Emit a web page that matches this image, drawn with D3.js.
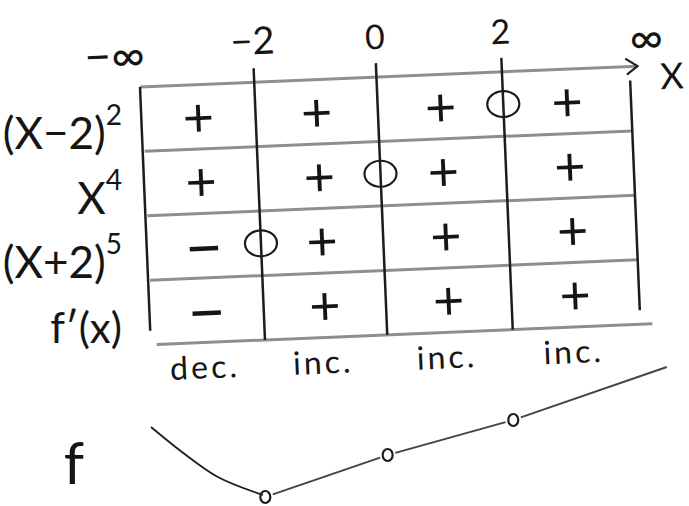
<!DOCTYPE html>
<html>
<head>
<meta charset="utf-8">
<script src="https://cdn.jsdelivr.net/npm/d3@7"></script>
<style>
  body { margin: 0; background: #fff; }
  svg { display: block; background: #fff; }
  text { font-family: Lato, 'DejaVu Sans', sans-serif; fill: #151515; }
</style>
</head>
<body>
<div id="chart"></div>
<script>
/* global d3 */

// ----------------------------------------
// Sign chart data
// ----------------------------------------
const boundaryLabels = ['−∞', '−2', '0', '2', '∞']
const factorNames = ['(X−2)', 'X', '(X+2)', 'f′(x)']
const factorPowers = ['2', '4', '5', '']
const rowSigns = [
  ['+', '+', '+', '+'],
  ['+', '+', '+', '+'],
  ['−', '+', '+', '+'],
  ['−', '+', '+', '+']
]
const zeroAt = [3, 2, 1, null] // boundary where the factor is 0
const behaviour = ['dec.', 'inc.', 'inc.', 'inc.']

// sketch of f (position in boundary units, rough height)
const fCurvePos = [0, 0.3, 0.6, 0.98]
const fCurveVal = [3.5, 2.2, 1.0, 0.1]
const fPointPos = [1, 2, 3]
const fPointVal = [0, 2.1, 3.85]
const fEndPos = 4.2
const fEndVal = 6.5

let gridC = '#8e8e8e'
let inkC = '#1c1c1c'

var width = 689
var height = 506
var gridW = 490
var gridH = 258

var svg = d3.select('#chart').append('svg')
  .attr('width', width)
  .attr('height', height)

var x = d3.scalePow().exponent(1.05).domain([0, 4]).range([0, gridW])
var row = d3.scaleBand().domain(d3.range(4)).range([0, gridH])
var colMid = i => (x(i) + x(i + 1)) / 2
var rowMid = r => row(r) + row.bandwidth() / 2

// the table is drawn slightly tilted, like on paper
var grid = svg.append('g')
  .attr('transform', 'translate(140,87) rotate(-2.4)')

// ----------------------------------------
// Horizontal lines
// ----------------------------------------
grid.append('line')
  .attr('x1', 0).attr('y1', 0)
  .attr('x2', gridW + 8).attr('y2', 0)
  .attr('stroke', gridC).attr('stroke-width', 3)

grid.append('path')
  .attr('d', d3.line()([[gridW - 4, -8], [gridW + 8, 0], [gridW - 3, 8]]))
  .attr('fill', 'none')
  .attr('stroke', inkC).attr('stroke-width', 2)

grid.selectAll('line.hrow')
  .data(d3.range(1, 4))
  .enter().append('line')
    .attr('class', 'hrow')
    .attr('x1', 2).attr('y1', d => row(d))
    .attr('x2', gridW).attr('y2', d => row(d))
    .attr('stroke', gridC).attr('stroke-width', 3)

grid.append('line')
  .attr('x1', 6).attr('y1', gridH)
  .attr('x2', gridW + 12).attr('y2', gridH)
  .attr('stroke', gridC).attr('stroke-width', 3)

// ----------------------------------------
// Vertical lines
// ----------------------------------------
grid.selectAll('line.vcol')
  .data(d3.range(5))
  .enter().append('line')
    .attr('class', 'vcol')
    .attr('x1', d => x(d))
    .attr('y1', d => d === 0 ? 0 : (d === 4 ? 14 : -14))
    .attr('x2', d => x(d))
    .attr('y2', d => (d === 0 || d === 4) ? gridH - 14 : gridH)
    .attr('stroke', inkC).attr('stroke-width', 2.5)

// boundary labels
grid.selectAll('text.bound')
  .data(boundaryLabels)
  .enter().append('text')
    .attr('class', 'bound')
    .attr('x', (d, i) => x(i) + (i === 0 ? -24 : (i === 4 ? 18 : 0)))
    .attr('y', (d, i) => i === 0 ? -16 : (i === 4 ? -12 : -28))
    .style('text-anchor', 'middle')
    .style('font-size', (d, i) => (i === 0 || i === 4) ? '46px' : (i === 1 ? '38px' : '34px'))
    .text(d => d)

grid.append('text')
  .attr('x', gridW + 42).attr('y', 24)
  .style('text-anchor', 'middle')
  .style('font-size', '36px')
  .text('X')

// ----------------------------------------
// Signs and zeros
// ----------------------------------------
rowSigns.forEach((signs, r) => {
  grid.selectAll('text.sign-' + r)
    .data(signs)
    .enter().append('text')
      .attr('class', 'sign-' + r)
      .attr('x', (d, i) => colMid(i))
      .attr('y', rowMid(r))
      .attr('dy', d => d === '+' ? '.36em' : '.38em')
      .style('text-anchor', 'middle')
      .style('font-size', d => d === '+' ? '54px' : '66px')
      .text(d => d)
})

grid.selectAll('ellipse.zero')
  .data(zeroAt.map((b, r) => ({ b: b, r: r })).filter(d => d.b !== null))
  .enter().append('ellipse')
    .attr('class', 'zero')
    .attr('cx', d => x(d.b))
    .attr('cy', d => rowMid(d.r))
    .attr('rx', 16).attr('ry', 13)
    .attr('fill', 'none')
    .attr('stroke', inkC).attr('stroke-width', 2.2)

// increasing / decreasing under each column
grid.selectAll('text.behave')
  .data(behaviour)
  .enter().append('text')
    .attr('class', 'behave')
    .attr('x', (d, i) => colMid(i) - 4)
    .attr('y', gridH + 36)
    .style('text-anchor', 'middle')
    .style('font-size', '32px')
    .style('letter-spacing', '3px')
    .text(d => d)

// ----------------------------------------
// Row labels
// ----------------------------------------
var labels = svg.selectAll('text.factor')
  .data(factorNames)
  .enter().append('text')
    .attr('class', 'factor')
    .attr('x', 122)
    .attr('y', (d, i) => 87 + rowMid(i) + 30)
    .style('text-anchor', 'end')

labels.append('tspan')
  .style('font-size', (d, i) => i === 3 ? '42px' : '44px')
  .text(d => d)

labels.append('tspan')
  .attr('dy', -24)
  .style('font-size', '28px')
  .text((d, i) => factorPowers[i])

// ----------------------------------------
// Sketch of f
// ----------------------------------------
var sx = d => 151 + x(d)
var sy = d3.scaleLinear().domain([0, fEndVal]).range([497, 367])

svg.append('text')
  .attr('x', 74).attr('y', 484)
  .style('text-anchor', 'middle')
  .style('font-size', '58px')
  .text('f')

svg.append('path')
  .datum(fCurvePos.map((p, i) => [sx(p), sy(fCurveVal[i])]))
  .attr('d', d3.line().curve(d3.curveCatmullRom))
  .attr('fill', 'none')
  .attr('stroke', inkC).attr('stroke-width', 1.8)

var knots = fPointPos.map((p, i) => [sx(p), sy(fPointVal[i])])
var ends = knots.concat([[sx(fEndPos), sy(fEndVal)]])
var gap = 8

svg.selectAll('line.fseg')
  .data(d3.range(ends.length - 1))
  .enter().append('line')
    .attr('class', 'fseg')
    .each(function (i) {
      var a = ends[i]
      var b = ends[i + 1]
      var len = Math.hypot(b[0] - a[0], b[1] - a[1])
      var ux = (b[0] - a[0]) / len
      var uy = (b[1] - a[1]) / len
      var gb = i + 1 < knots.length ? gap : 0
      d3.select(this)
        .attr('x1', a[0] + ux * gap).attr('y1', a[1] + uy * gap)
        .attr('x2', b[0] - ux * gb).attr('y2', b[1] - uy * gb)
    })
    .attr('stroke', '#444').attr('stroke-width', 2)

svg.selectAll('ellipse.knot')
  .data(knots)
  .enter().append('ellipse')
    .attr('class', 'knot')
    .attr('cx', d => d[0]).attr('cy', d => d[1])
    .attr('rx', 5).attr('ry', 6)
    .attr('fill', 'none')
    .attr('stroke', inkC).attr('stroke-width', 2.2)
</script>
</body>
</html>
